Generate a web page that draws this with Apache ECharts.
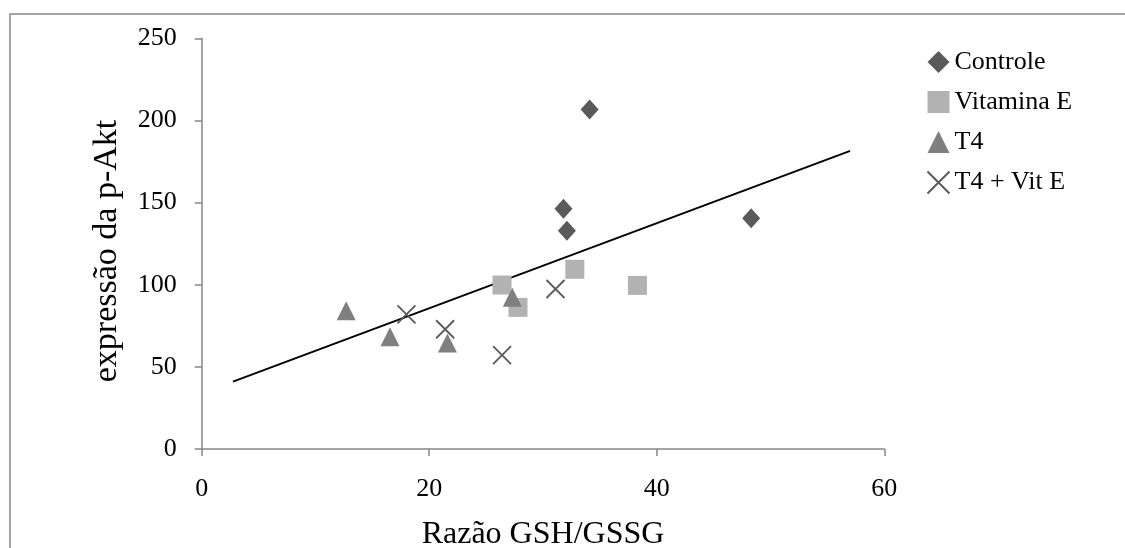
<!DOCTYPE html>
<html>
<head>
<meta charset="utf-8">
<script src="https://cdn.jsdelivr.net/npm/echarts@6/dist/echarts.min.js"></script>
<style>
  html, body { margin: 0; padding: 0; background: #fff; }
  #chart { width: 1125px; height: 548px; }
</style>
</head>
<body>
<div id="chart"></div>
<script>
// GSH/GSSG ratio (x) against p-Akt expression (y), one array pair per group
const controleX = [34.1, 31.8, 32.1, 48.3];
const controleY = [206.7, 146.2, 132.9, 140.5];

const vitaminaEX = [26.4, 27.8, 32.8, 38.3];
const vitaminaEY = [99.8, 86.2, 109.4, 99.6];

const t4X = [12.7, 16.55, 21.6, 27.3];
const t4Y = [84.2, 68.4, 64.5, 92.3];

const t4VitEX = [18.0, 21.4, 26.4, 31.1];
const t4VitEY = [82.0, 72.9, 57.2, 97.4];

// linear trend line, start and end points
const trendX = [2.75, 57.0];
const trendY = [41.0, 181.5];

const xTicks = [0, 20, 40, 60];
const yTicks = [0, 50, 100, 150, 200, 250];

const groupNames = ['Controle', 'Vitamina E', 'T4', 'T4 + Vit E'];

const pairs = (xs, ys) => xs.map((x, i) => [x, ys[i]]);

const FONT = "'Liberation Serif', 'Times New Roman', serif";
const AXIS_GRAY = '#868686';

const chart = echarts.init(document.getElementById('chart'));

chart.setOption({
  animation: false,
  backgroundColor: '#ffffff',
  textStyle: { fontFamily: FONT },
  grid: { left: 201.7, right: 240.7, top: 38.3, bottom: 99, containLabel: false },
  xAxis: {
    type: 'value',
    min: xTicks[0],
    max: xTicks[xTicks.length - 1],
    interval: xTicks[1] - xTicks[0],
    splitLine: { show: false },
    axisLine: { show: true, onZero: false, lineStyle: { color: AXIS_GRAY, width: 1.5 } },
    axisTick: { show: true, inside: false, length: 7, lineStyle: { color: AXIS_GRAY, width: 1.5 } },
    axisLabel: { color: '#000', fontFamily: FONT, fontSize: 26, margin: 27 }
  },
  yAxis: {
    type: 'value',
    min: yTicks[0],
    max: yTicks[yTicks.length - 1],
    interval: yTicks[1] - yTicks[0],
    splitLine: { show: false },
    axisLine: { show: true, onZero: false, lineStyle: { color: AXIS_GRAY, width: 1.5 } },
    axisTick: { show: true, inside: false, length: 7, lineStyle: { color: AXIS_GRAY, width: 1.5 } },
    axisLabel: { color: '#000', fontFamily: FONT, fontSize: 26, margin: 25 }
  },
  legend: {
    orient: 'vertical',
    left: 920,
    top: 44,
    data: groupNames,
    itemWidth: 22,
    itemHeight: 22,
    itemGap: 14,
    textStyle: { color: '#000', fontFamily: FONT, fontSize: 26, lineHeight: 26 }
  },
  graphic: [
    {
      type: 'rect',
      silent: true,
      shape: { x: 10, y: 14, width: 1200, height: 600 },
      style: { fill: 'none', stroke: '#878787', lineWidth: 1.5 },
      z: 0
    },
    {
      type: 'text',
      x: 543, y: 535,
      style: {
        text: 'Razão GSH/GSSG', fill: '#000', font: "32px " + FONT,
        align: 'center', verticalAlign: 'middle'
      }
    },
    {
      type: 'text',
      x: 107, y: 251,
      rotation: Math.PI / 2,
      style: {
        text: 'expressão da p-Akt', fill: '#000', font: "34px " + FONT,
        align: 'center', verticalAlign: 'middle'
      }
    }
  ],
  series: [
    {
      name: 'trend',
      type: 'line',
      data: pairs(trendX, trendY),
      symbol: 'none',
      lineStyle: { color: '#000', width: 2 },
      z: 1
    },
    {
      name: groupNames[0],
      type: 'scatter',
      data: pairs(controleX, controleY),
      symbol: 'diamond',
      symbolSize: [18, 20],
      itemStyle: { color: '#5a5a5a', opacity: 1 },
      z: 2
    },
    {
      name: groupNames[1],
      type: 'scatter',
      data: pairs(vitaminaEX, vitaminaEY),
      symbol: 'rect',
      symbolSize: 19,
      itemStyle: { color: '#b2b2b2', opacity: 1 },
      z: 2
    },
    {
      name: groupNames[2],
      type: 'scatter',
      data: pairs(t4X, t4Y),
      symbol: 'triangle',
      symbolSize: [19, 19],
      itemStyle: { color: '#7f7f7f', opacity: 1 },
      z: 3
    },
    {
      name: groupNames[3],
      type: 'scatter',
      data: pairs(t4VitEX, t4VitEY),
      symbol: 'path://M0,0L10,10M10,0L0,10',
      symbolSize: 18,
      itemStyle: { color: 'none', borderColor: '#5a5a5a', borderWidth: 1.8, opacity: 1 },
      z: 3
    }
  ]
});
</script>
</body>
</html>
